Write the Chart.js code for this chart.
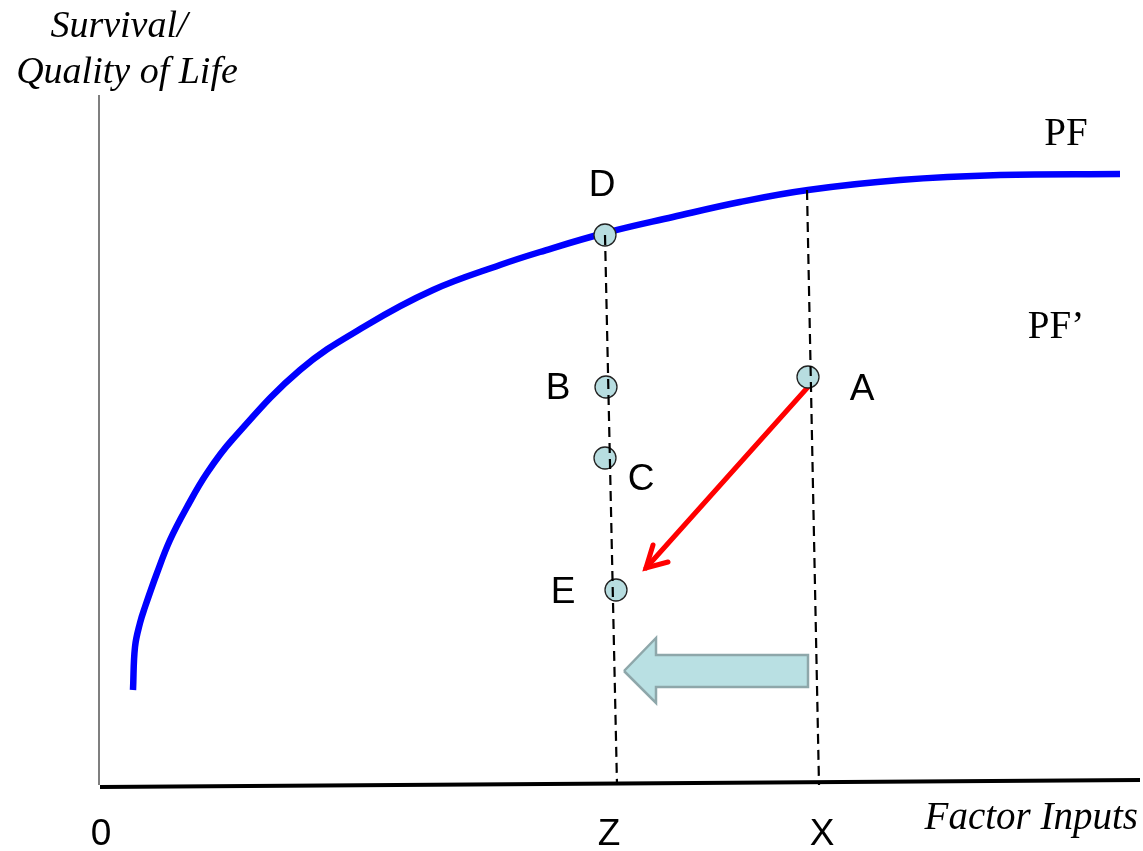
<!DOCTYPE html>
<html>
<head>
<meta charset="utf-8">
<script src="https://cdn.jsdelivr.net/npm/chart.js@4"></script>
<style>
  html, body { margin: 0; padding: 0; background: #fff; overflow: hidden; }
  canvas { display: block; }
</style>
</head>
<body>
<canvas id="pfChart" width="1143" height="851"></canvas>
<script>
// production function PF (x = factor inputs, y = survival / quality of life)
const curveX = [33, 35, 40, 45, 57, 70, 87, 107, 132, 200, 267, 333, 400, 440, 505, 573, 640, 708, 800, 900, 1020];
const curveY = [95, 138, 162, 178, 212, 245, 278, 312, 345, 415, 460, 495, 520, 533, 552, 568, 583, 595, 605, 610, 611];

// labelled points
const pointNames = ["D", "B", "C", "E", "A"];
const pointX = [505, 506, 505, 516, 708];
const pointY = [550, 398, 327, 195, 408];

// dashed drop lines at Z and X
const dropZX = [505, 517];
const dropZY = [550, 0];
const dropXX = [707, 719];
const dropXY = [595, 0];

// red move A -> E
const moveX = [708, 546];
const moveY = [398, 217];
const moveHeadX = [553, 546, 568];
const moveHeadY = [240, 217, 223];

// block arrow (shift from X to Z)
const shiftX = [524, 556, 556, 708, 708, 556, 556, 524];
const shiftY = [114, 147, 130, 130, 98, 98, 82, 114];

// axes
const xAxisX = [0, 1040];
const xAxisY = [-2, 5];
const yAxisX = [-1, -1];
const yAxisY = [0, 690];

// tick labels along the x axis
const tickLabels = ["0", "Z", "X"];
const tickValues = [1, 509, 722];

// curve labels
const curveLabels = ["PF", "PF\u2019"];
const curveLabelX = [966, 956];
const curveLabelY = [650, 457];

const pts = (xs, ys) => xs.map((x, i) => ({ x: x, y: ys[i] }));

const SANS = "'Liberation Sans', Arial, sans-serif";
const SERIF = "'Liberation Serif', 'Times New Roman', serif";

// offsets (px) of the letter labels from their points
const labelOffsets = { D: [-3, -49], B: [-48, 2], C: [36, 22], E: [-53, 3], A: [54, 13] };

const textPlugin = {
  id: "texts",
  afterDatasetsDraw(chart) {
    const ctx = chart.ctx;
    const sx = chart.scales.x, sy = chart.scales.y;
    ctx.save();
    ctx.fillStyle = "#000";
    ctx.textAlign = "center";
    ctx.textBaseline = "middle";

    ctx.font = "37px " + SANS;
    pointNames.forEach((n, i) => {
      const o = labelOffsets[n];
      ctx.fillText(n, sx.getPixelForValue(pointX[i]) + o[0], sy.getPixelForValue(pointY[i]) + o[1]);
    });
    tickLabels.forEach((t, i) => {
      ctx.fillText(t, sx.getPixelForValue(tickValues[i]), chart.chartArea.bottom + 50);
    });

    ctx.font = "39px " + SERIF;
    curveLabels.forEach((t, i) => {
      ctx.fillText(t, sx.getPixelForValue(curveLabelX[i]), sy.getPixelForValue(curveLabelY[i]));
    });

    // axis titles
    ctx.font = "italic 38px " + SERIF;
    ctx.textBaseline = "alphabetic";
    ctx.fillText("Survival/", 119, 37);
    ctx.fillText("Quality of Life", 127, 83);
    ctx.textAlign = "right";
    ctx.font = "italic 39px " + SERIF;
    ctx.fillText("Factor Inputs", 1138, 829);
    ctx.restore();
  }
};

const lineDs = (data, color, width, extra) => Object.assign({
  type: "line",
  data: data,
  borderColor: color,
  borderWidth: width,
  pointRadius: 0,
  fill: false,
  tension: 0,
  clip: false
}, extra || {});

new Chart(document.getElementById("pfChart"), {
  type: "scatter",
  data: {
    datasets: [
      lineDs(pts(dropZX, dropZY), "#000", 2.2, { borderDash: [10, 6], order: 0 }),
      lineDs(pts(dropXX, dropXY), "#000", 2.2, { borderDash: [10, 6], order: 0 }),
      {
        type: "scatter",
        data: pts(pointX, pointY),
        pointRadius: 11,
        pointBackgroundColor: "#b7dde0",
        pointBorderColor: "#222",
        pointBorderWidth: 1.3,
        clip: false,
        order: 1
      },
      lineDs(pts(moveX, moveY), "#ff0000", 5, { order: 2, borderCapStyle: "round" }),
      lineDs(pts(moveHeadX, moveHeadY), "#ff0000", 5, { order: 2, borderCapStyle: "round", borderJoinStyle: "miter" }),
      lineDs(pts(shiftX, shiftY), "#8ea7aa", 2.5, { fill: "shape", backgroundColor: "#b9e0e3", order: 3 }),
      lineDs(pts(curveX, curveY), "#0000ff", 6.5, { tension: 0.4, order: 4 }),
      lineDs(pts(xAxisX, xAxisY), "#000", 4, { order: 5 }),
      lineDs(pts(yAxisX, yAxisY), "#555", 1.5, { order: 5 })
    ]
  },
  options: {
    responsive: false,
    animation: false,
    layout: { autoPadding: false, padding: { left: 100, right: 3, top: 95, bottom: 66 } },
    plugins: { legend: { display: false }, tooltip: { enabled: false } },
    scales: {
      x: { type: "linear", min: 0, max: 1040, display: false },
      y: { type: "linear", min: 0, max: 690, display: false }
    }
  },
  plugins: [textPlugin]
});
</script>
</body>
</html>
